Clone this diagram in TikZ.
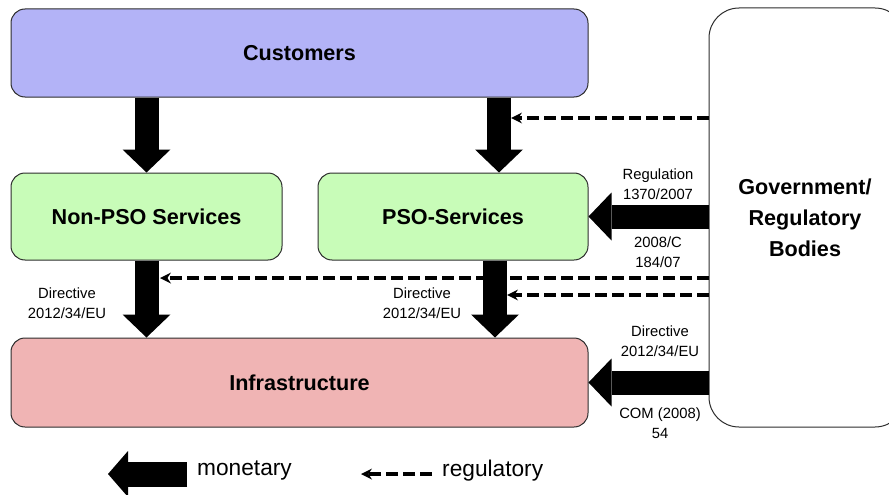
\documentclass[tikz,border=0pt]{standalone}
\usepackage{fontspec}
\setmainfont{Liberation Sans}
\usetikzlibrary{arrows.meta}
\definecolor{custfill}{RGB}{179,179,247}
\definecolor{svcfill}{RGB}{200,252,184}
\definecolor{infrafill}{RGB}{240,180,180}
\definecolor{edge}{RGB}{45,45,45}
\begin{document}
\begin{tikzpicture}[x=1pt,y=-1pt,
  box/.style={draw=edge, line width=1pt, rounded corners=14pt, inner sep=0pt,
    align=center, font=\fontsize{21.6}{31}\selectfont\bfseries},
  money/.style={line width=24pt,
    -{Triangle[length=23pt,width=48pt,line width=0pt 0 0]}},
  reg/.style={line width=3.6pt, dash pattern=on 12pt off 5pt,
    -{Stealth[length=11pt,width=11pt,line width=0pt 0 0]}},
  lbl/.style={inner sep=0pt, align=center, font=\fontsize{14.8}{20}\selectfont},
  legend/.style={inner sep=0pt, anchor=west, font=\fontsize{22.7}{25}\selectfont}]
\useasboundingbox (0,0) rectangle (889,495);

% boxes
\node[box, fill=custfill, minimum width=577pt, minimum height=88pt]
  (cust) at (299.5,53) {Customers};
\node[box, fill=svcfill, minimum width=271pt, minimum height=87pt]
  (nonpso) at (146.5,216.5) {Non-PSO Services};
\node[box, fill=svcfill, minimum width=270pt, minimum height=87pt]
  (pso) at (453,216.5) {PSO-Services};
\node[box, fill=infrafill, minimum width=577pt, minimum height=89pt]
  (infra) at (299.5,382.5) {Infrastructure};
\node[box, fill=white, rounded corners=30pt, minimum width=196pt, minimum height=419pt]
  (gov) at (807,217.5) {};
\node[inner sep=0pt, align=center, font=\fontsize{21.6}{31}\selectfont\bfseries]
  (govtext) at (805,218) {Government/\\Regulatory\\Bodies};

% ends of the regulatory lines
\coordinate (r1) at (511,118);
\coordinate (r2) at (160,278);
\coordinate (r3) at (507,295);

% regulatory flows
\draw[reg] (gov.west |- r1) -- (r1);
\draw[reg] (gov.west |- r2) -- (r2);
\draw[reg] (gov.west |- r3) -- (r3);

% monetary flows
\draw[money] (cust.south -| nonpso.north) -- (nonpso.north);
\draw[money] ([xshift=46pt]pso.north |- cust.south) -- ([xshift=46pt]pso.north);
\draw[money] (nonpso.south) -- (nonpso.south |- infra.north);
\draw[money] ([xshift=42pt]pso.south) -- ([xshift=42pt]pso.south |- infra.north);
\draw[money] (gov.west |- pso.east) -- (pso.east);
\draw[money] (gov.west |- infra.east) -- (infra.east);

% labels
\node[lbl] (l1) at (658,184.5) {Regulation\\1370/2007};
\node[lbl] (l2) at (658,252) {2008/C\\184/07};
\node[lbl] (l3) at (67,303.5) {Directive\\2012/34/EU};
\node[lbl] (l4) at (422,303.5) {Directive\\2012/34/EU};
\node[lbl] (l5) at (660,341) {Directive\\2012/34/EU};
\node[lbl] (l6) at (660,423.5) {COM (2008)\\54};

% legend
\coordinate (m0) at (187,474);
\coordinate (m1) at (108,474);
\draw[line width=25pt, -{Triangle[length=20pt,width=46pt,line width=0pt 0 0]}] (m0) -- (m1);
\node[legend] (mt) at (197,471) {monetary};
\coordinate (d0) at (432,474);
\coordinate (d1) at (361,474);
\draw[line width=4pt, dash pattern=on 12pt off 5pt,
  -{Stealth[length=11pt,width=11pt,line width=0pt 0 0]}] (d0) -- (d1);
\node[legend] (rt) at (442,471) {regulatory};
\end{tikzpicture}
\end{document}
